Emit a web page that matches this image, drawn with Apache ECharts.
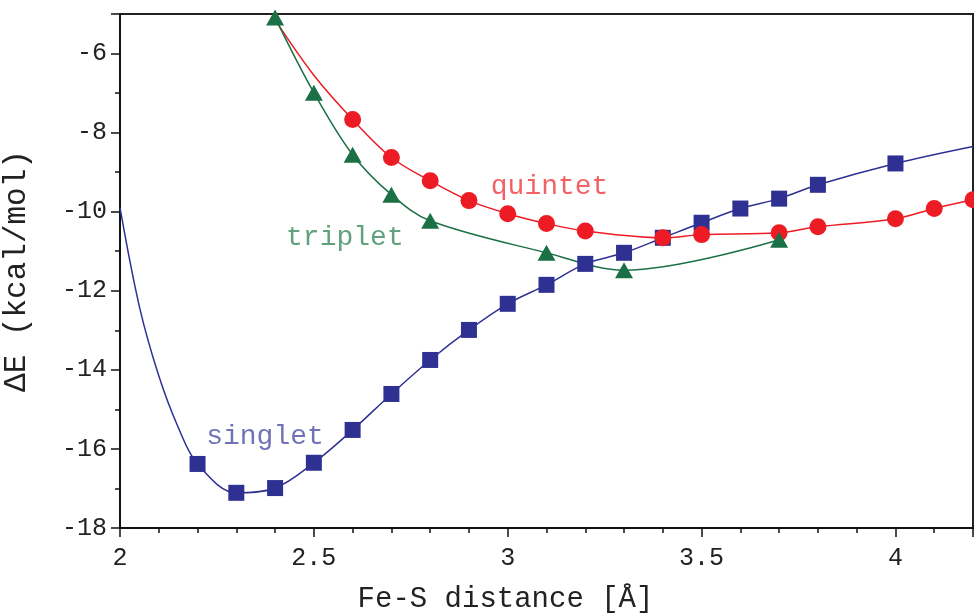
<!DOCTYPE html>
<html>
<head>
<meta charset="utf-8">
<script src="https://cdn.jsdelivr.net/npm/echarts@6/dist/echarts.min.js"></script>
<style>
  html, body { margin: 0; padding: 0; background: #fff; }
  #chart { width: 974px; height: 614px; }
</style>
</head>
<body>
<div id="chart"></div>
<script>
// measured points (with markers)
const singletX = [2.2, 2.3, 2.4, 2.5, 2.6, 2.7, 2.8, 2.9, 3.0, 3.1, 3.2, 3.3, 3.4, 3.5, 3.6, 3.7, 3.8, 4.0];
const singletE = [-16.38, -17.11, -16.99, -16.35, -15.52, -14.61, -13.75, -12.99, -12.33, -11.85, -11.32, -11.04, -10.66, -10.28, -9.92, -9.67, -9.32, -8.78];
const tripletX = [2.4, 2.5, 2.6, 2.7, 2.8, 3.1, 3.3, 3.7];
const tripletE = [-5.09, -6.99, -8.56, -9.57, -10.23, -11.04, -11.48, -10.71];
const quintetX = [2.6, 2.7, 2.8, 2.9, 3.0, 3.1, 3.2, 3.4, 3.5, 3.7, 3.8, 4.0, 4.1, 4.2];
const quintetE = [-7.67, -8.63, -9.22, -9.72, -10.05, -10.30, -10.49, -10.66, -10.58, -10.53, -10.38, -10.18, -9.92, -9.70];

// extra points of the fitted curves (no markers)
const singletFitX = [2.0, 2.05, 2.1, 2.15, 4.2];
const singletFitE = [-9.9, -12.4, -14.15, -15.45, -8.35];
const quintetFitX = [2.4, 2.5];
const quintetFitE = [-5.15, -6.55];

// state labels placed in data coordinates
const labelNames = ["quintet", "triplet", "singlet"];
const labelX = [3.108, 2.58, 2.374];
const labelE = [-9.37, -10.66, -15.70];

const FONT = "Liberation Mono";

function pairs(xs, ys) {
  return xs.map((x, i) => [x, ys[i]]);
}
function curve(xs, ys, fx, fy) {
  return pairs(xs, ys).concat(pairs(fx, fy)).sort((a, b) => a[0] - b[0]);
}

const colors = { singlet: "#2e3192", triplet: "#1b7045", quintet: "#ed1c24" };
const textColors = ["#ef3a3f", "#3a8a5e", "#4d4fa6"];

const chart = echarts.init(document.getElementById("chart"));

function fitLine(name, data) {
  return {
    name: name,
    type: "line",
    data: data,
    smooth: 0.35,
    showSymbol: false,
    symbol: "none",
    lineStyle: { color: colors[name], width: 1.5 },
    silent: true,
    z: 2
  };
}
function markers(name, data, symbol, size, z) {
  return {
    name: name,
    type: "scatter",
    data: data,
    symbol: symbol,
    symbolSize: size,
    itemStyle: { color: colors[name], opacity: 1 },
    z: z
  };
}

chart.setOption({
  backgroundColor: "#fff",
  animation: false,
  grid: {
    left: 120, right: 1, top: 14, bottom: 86,
    outerBoundsMode: "none",
    containLabel: false,
    show: true, borderColor: "#222", borderWidth: 2
  },
  xAxis: {
    type: "value",
    min: 2, max: 4.2, interval: 0.5,
    name: "Fe-S distance [Å]",
    nameLocation: "middle",
    nameGap: 57,
    nameTextStyle: { fontFamily: FONT, fontSize: 29, color: "#222", padding: [0, 82, 0, 0] },
    axisLine: { show: true, lineStyle: { color: "#111", width: 2 } },
    axisTick: { show: true, inside: false, length: 9, lineStyle: { color: "#111", width: 1.5 } },
    minorTick: { show: true, splitNumber: 5, length: 5, lineStyle: { color: "#111", width: 1.5 } },
    axisLabel: { fontFamily: FONT, fontSize: 25, color: "#222", margin: 18, showMaxLabel: false },
    splitLine: { show: false }
  },
  yAxis: {
    type: "value",
    min: -18, max: -5, interval: 2,
    name: "ΔE (kcal/mol)",
    nameLocation: "middle",
    nameGap: 88,
    nameTextStyle: { fontFamily: FONT, fontSize: 31, color: "#222" },
    axisLine: { show: true, lineStyle: { color: "#111", width: 2 } },
    axisTick: { show: true, inside: false, length: 9, lineStyle: { color: "#111", width: 1.5 } },
    minorTick: { show: true, splitNumber: 2, length: 5, lineStyle: { color: "#111", width: 1.5 } },
    axisLabel: { fontFamily: FONT, fontSize: 25, color: "#222", margin: 13, showMaxLabel: false },
    splitLine: { show: false }
  },
  series: [
    fitLine("singlet", curve(singletX, singletE, singletFitX, singletFitE)),
    fitLine("quintet", curve(quintetX, quintetE, quintetFitX, quintetFitE)),
    fitLine("triplet", pairs(tripletX, tripletE)),
    markers("singlet", pairs(singletX, singletE), "rect", 16, 3),
    markers("quintet", pairs(quintetX, quintetE), "circle", 17, 4),
    markers("triplet", pairs(tripletX, tripletE), "triangle", [18, 16], 5),
    {
      type: "scatter",
      data: labelNames.map((n, i) => ({
        value: [labelX[i], labelE[i]],
        label: {
          show: true, position: "inside", formatter: n,
          fontFamily: FONT, fontSize: 28, color: textColors[i]
        }
      })),
      symbolSize: 0,
      silent: true,
      z: 6
    }
  ]
});
</script>
</body>
</html>
